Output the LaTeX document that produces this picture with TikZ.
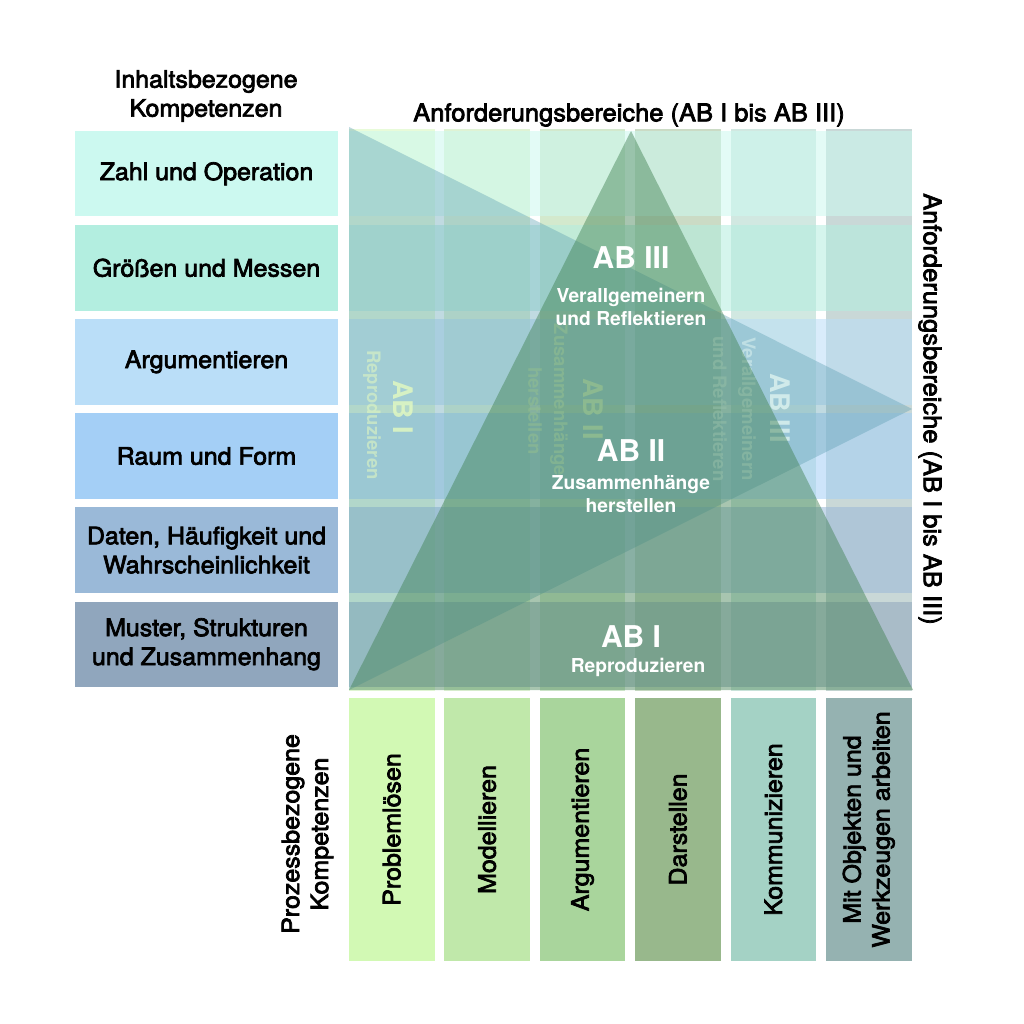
\documentclass[tikz,border=0pt]{standalone}
\usepackage{fontspec}
\setmainfont{TeX Gyre Heros}
\newfontfamily\medfont[FakeStretch=1.04,FakeBold=3]{TeX Gyre Heros}
\definecolor{rowA}{HTML}{CCF9F0}
\definecolor{rowB}{HTML}{B3EEE0}
\definecolor{rowC}{HTML}{BADEF8}
\definecolor{rowD}{HTML}{A4CFF6}
\definecolor{rowE}{HTML}{9AB9D8}
\definecolor{rowF}{HTML}{90A6BD}
\definecolor{colA}{HTML}{D2F9B4}
\definecolor{colB}{HTML}{C0E8AA}
\definecolor{colC}{HTML}{A9D59C}
\definecolor{colD}{HTML}{98B88C}
\definecolor{colE}{HTML}{A4D2C5}
\definecolor{colF}{HTML}{95B2B1}
\definecolor{triB}{HTML}{5C9EB2}
\definecolor{triG}{HTML}{3F8050}
\definecolor{ftA}{HTML}{E4FAC0}
\definecolor{ftB}{HTML}{D8F2C4}
\definecolor{ftC}{HTML}{DDF3F0}
\begin{document}
\begin{tikzpicture}[x=1pt,y=-1pt,
  lbl/.style={font=\medfont\fontsize{24}{29}\selectfont, align=center, text=black},
  lbox/.style={lbl, minimum width=263pt, minimum height=85.5pt, inner sep=0pt},
  cbox/.style={lbl, minimum width=263pt, minimum height=85.5pt, inner sep=0pt, rotate=90},
  wbig/.style={font=\bfseries\fontsize{30}{34}\selectfont, text=white, inner sep=0pt},
  wsmall/.style={font=\bfseries\fontsize{19.2}{23.5}\selectfont, text=white, align=center, inner sep=0pt},
  fbig/.style={font=\bfseries\fontsize{27}{32}\selectfont, rotate=-90, inner sep=0pt, text opacity=0.8},
  fsmall/.style={font=\bfseries\fontsize{18.5}{23}\selectfont, rotate=-90, inner sep=0pt, text opacity=0.55},
  strip/.style={fill opacity=0.5}
]
\path[use as bounding box, fill=white] (0,0) rectangle (1024,1024);

% grid strips
\foreach \c [count=\j from 0] in {colA,colB,colC,colD,colE,colF}
  \fill[\c, strip] ({349+95.4*\j},129) rectangle ({434.5+95.4*\j},691);
\foreach \r [count=\i from 0] in {rowA,rowB,rowC,rowD,rowE,rowF}
  \fill[\r, fill opacity=0.55] (349,{131+94.1*\i}) rectangle (912,{216.5+94.1*\i});

% triangles (blue first)
\coordinate (rA) at (349,127);
\coordinate (rB) at (349,690);
\coordinate (rC) at (912,409);
\coordinate (tA) at (631,131);
\coordinate (tB) at (349,690);
\coordinate (tC) at (913,690);
\fill[triB, fill opacity=0.38] (rA) -- (rB) -- (rC) -- cycle;

% faint rotated labels
\node[fbig, text=ftA] (f1a) at (403,407) {AB I};
\node[fsmall, text=ftA] (f1b) at (372,415) {Reproduzieren};
\node[fbig, text=ftB] (f2a) at (593,409) {AB II};
\node[fsmall, text=ftB] (f2b) at (559,400) {Zusammenhänge};
\node[fsmall, text=ftB] (f2c) at (535,411) {herstellen};
\node[fbig, text=ftC] (f3a) at (780,408) {AB III};
\node[fsmall, text=ftC] (f3b) at (747,409) {Verallgemeinern};
\node[fsmall, text=ftC] (f3c) at (720,409) {und Reflektieren};

\fill[triG, fill opacity=0.45] (tA) -- (tB) -- (tC) -- cycle;

% white labels
\node[wbig] (ab3) at (631,258) {AB III};
\node[wsmall] (ab3t) at (631,307) {Verallgemeinern\\und Reflektieren};
\node[wbig] (ab2) at (631,451) {AB II};
\node[wsmall] (ab2t) at (631,494) {Zusammenhänge\\herstellen};
\node[wbig] (ab1) at (631,637) {AB I};
\node[wsmall] (ab1t) at (638,667) {Reproduzieren};

% left boxes
\node[lbl] (ttl) at (206,96) {Inhaltsbezogene\\Kompetenzen};
\node[lbox, fill=rowA] (b1) at (206.5,173.75) {Zahl und Operation};
\node[lbox, fill=rowB] (b2) at (206.5,267.85) {Größen und Messen};
\node[lbox, fill=rowC] (b3) at (206.5,361.95) {Argumentieren};
\node[lbox, fill=rowD] (b4) at (206.5,456.05) {Raum und Form};
\node[lbox, fill=rowE] (b5) at (206.5,550.15) {Daten, Häufigkeit und\\Wahrscheinlichkeit};
\node[lbox, fill=rowF] (b6) at (206.5,644.25) {Muster, Strukturen\\und Zusammenhang};

% bottom columns
\node[lbl, rotate=90] (ptl) at (307.5,834) {Prozessbezogene\\Kompetenzen};
\node[cbox, fill=colA] (c1) at (391.75,829.5) {Problemlösen};
\node[cbox, fill=colB] (c2) at (487.15,829.5) {Modellieren};
\node[cbox, fill=colC] (c3) at (582.55,829.5) {Argumentieren};
\node[cbox, fill=colD] (c4) at (677.95,829.5) {Darstellen};
\node[cbox, fill=colE] (c5) at (773.35,829.5) {Kommunizieren};
\node[cbox, fill=colF] (c6) at (868.75,829.5) {Mit Objekten und\\Werkzeugen arbeiten};

% axis titles
\node[lbl, font=\medfont\fontsize{24.5}{29}\selectfont] (top) at (629,115) {Anforderungsbereiche (AB I bis AB III)};
\node[lbl, font=\medfont\fontsize{24.5}{29}\selectfont, rotate=-90] (rgt) at (930,409) {Anforderungsbereiche (AB I bis AB III)};
\end{tikzpicture}
\end{document}
